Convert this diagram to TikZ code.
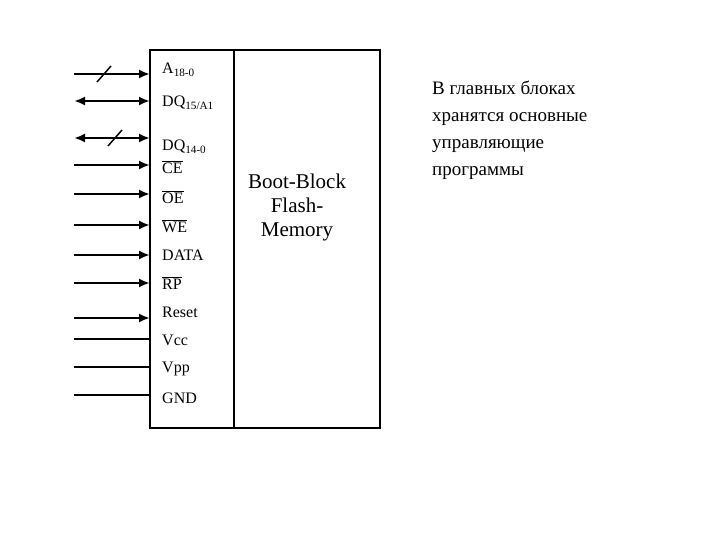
\documentclass[tikz,border=0pt]{standalone}
\usepackage{fontspec}
\setmainfont{Liberation Serif}
\usetikzlibrary{arrows.meta}
\newcommand{\ovl}[1]{\ensuremath{\overline{\mbox{#1}}}}
\tikzset{
	pin/.style={line width=2.5pt},
	tip/.style={-{Latex[length=11pt,width=9pt]}},
	both/.style={{Latex[length=11pt,width=9pt]}-{Latex[length=11pt,width=9pt]}},
	lbl/.style={anchor=west, inner sep=0pt, font=\fontsize{16}{16}\selectfont},
}
\begin{document}
\begin{tikzpicture}[x=1pt, y=-1pt]

	\useasboundingbox (0,0) rectangle (720,540);

	% the chip
	\draw[line width=2.5pt] (150,50) rectangle (380,428);
	\draw[line width=2.5pt] (234,50) -- (234,428);
	\node[align=center, font=\fontsize{21}{24}\selectfont] (chip) at (297,207) {Boot-Block\\Flash-\\Memory};

	% pin labels
	\node[lbl] (lA) at (162,70) {A\textsubscript{18-0}};
	\node[lbl] (lDQa) at (162,103) {DQ\textsubscript{15/A1}};
	\node[lbl] (lDQb) at (162,147) {DQ\textsubscript{14-0}};
	\node[lbl] (lCE) at (162,167) {\ovl{CE}};
	\node[lbl] (lOE) at (162,197) {\ovl{OE}};
	\node[lbl] (lWE) at (162,226) {\ovl{WE}};
	\node[lbl] (lDATA) at (162,255) {DATA};
	\node[lbl] (lRP) at (162,283) {\ovl{RP}};
	\node[lbl] (lRes) at (162,312) {Reset};
	\node[lbl] (lVcc) at (162,340) {Vcc};
	\node[lbl] (lVpp) at (162,369) {Vpp};
	\node[lbl] (lGND) at (162,398) {GND};

	% pin ends
	\foreach \n/\y in {A/74, DQa/101, DQb/138, CE/165, OE/194, WE/225, DATA/255, RP/283, Res/318, Vcc/339, Vpp/367, GND/395} {
		\coordinate (s\n) at (74,\y);
		\coordinate (p\n) at (150,\y);
	}

	% pins
	\draw[pin, tip] (sA) -- (pA);
	\draw[pin, both] (sDQa) -- (pDQa);
	\draw[pin, both] (sDQb) -- (pDQb);
	\foreach \n in {CE, OE, WE, DATA, RP, Res}
		\draw[pin, tip] (s\n) -- (p\n);
	\foreach \n in {Vcc, Vpp, GND}
		\draw[pin] (s\n) -- (p\n);

	% bus marks
	\draw[line width=1.5pt] (97,82) -- (111,66);
	\draw[line width=1.5pt] (108,146) -- (122,130);

	% note
	\node[anchor=north west, align=left, inner sep=0pt, font=\fontsize{19}{27}\selectfont] (note) at (432,81) {В главных блоках\\хранятся основные\\управляющие\\программы};

\end{tikzpicture}
\end{document}
